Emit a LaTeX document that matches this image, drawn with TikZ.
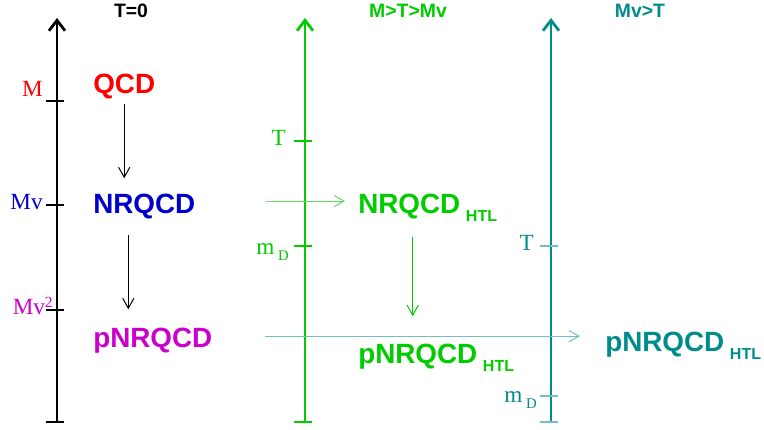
\documentclass[tikz,border=0pt]{standalone}
\usepackage{fontspec}
\newfontfamily\hel{Liberation Sans}
\newfontfamily\tms{Liberation Serif}
\usetikzlibrary{arrows.meta,positioning}
\definecolor{qred}{RGB}{255,0,0}
\definecolor{qblue}{RGB}{0,0,204}
\definecolor{qmag}{RGB}{204,0,204}
\definecolor{qgreen}{RGB}{0,204,0}
\definecolor{lgreen}{RGB}{100,215,100}
\definecolor{qteal}{RGB}{0,140,140}
\definecolor{lteal}{RGB}{115,190,190}
\newcommand{\htl}{\hspace{1.4mm}\raisebox{-2mm}{\fontsize{11.4}{12}\selectfont HTL}}
\newcommand{\mdsub}{m\hspace{0.9mm}\raisebox{-1.5mm}{\fontsize{10.5}{11}\selectfont D}}
\begin{document}
\begin{tikzpicture}[x=0.25mm,y=-0.25mm,
 scaleaxis/.style={line width=0.7mm,-{Straight Barb[length=2.6mm,width=4mm]}},
 tickmark/.style={line width=0.35mm},
 theory/.style={inner sep=0pt,anchor=base west,font=\hel\bfseries\fontsize{19.8}{22}\selectfont},
 head/.style={inner sep=0pt,anchor=base,font=\hel\bfseries\fontsize{13.8}{15}\selectfont},
 lab/.style={inner sep=0pt,anchor=base east,font=\tms\fontsize{16.5}{18}\selectfont},
 arr/.style={line width=0.25mm,-{Straight Barb[length=2.5mm,width=2.8mm]}}]
\useasboundingbox (0,0) rectangle (764,430);
% T=0 axis
\coordinate (b1) at (57,422); \coordinate (t1) at (57,18);
\draw[scaleaxis] (b1) -- (t1);
\foreach \y in {101,205,310,422} \draw[tickmark] (46,\y) -- (64,\y);
\node[head] (h1) at (131,17) {T=0};
\node[lab,qred] (lM) at (43,96) {M};
\node[lab,qblue] (lMv) at (43,209) {Mv};
\node[lab,qmag] (lMvv) at (53,314) {Mv\raisebox{1.6mm}{\fontsize{11}{12}\selectfont 2}};
% M>T>Mv axis
\coordinate (b2) at (305,422); \coordinate (t2) at (305,18);
\draw[scaleaxis,qgreen] (b2) -- (t2);
\foreach \y in {141,246,422} \draw[tickmark,qgreen] (294,\y) -- (312,\y);
\node[head,qgreen] (h2) at (408,17) {M>T>Mv};
\node[lab,qgreen] (lT2) at (286,145) {T};
\node[lab,qgreen] (lmD2) at (289,254) {\mdsub};
% Mv>T axis
\coordinate (b3) at (551,422); \coordinate (t3) at (551,18);
\draw[scaleaxis,qteal] (b3) -- (t3);
\foreach \y in {246,396,422} \draw[tickmark,lteal] (540,\y) -- (558,\y);
\node[head,qteal] (h3) at (640,17) {Mv>T};
\node[lab,qteal] (lT3) at (534,250) {T};
\node[lab,qteal] (lmD3) at (537,402) {\mdsub};
% effective theories
\node[theory,qred] (qcd) at (93,93) {QCD};
\node[theory,qblue] (nrqcd) at (93,213) {NRQCD};
\node[theory,qmag] (pnrqcd) at (93,347) {pNRQCD};
\node[theory,qgreen] (nrqcdg) at (358,213) {NRQCD\htl};
\node[theory,qgreen] (pnrqcdg) at (358,363) {pNRQCD\htl};
\node[theory,qteal] (pnrqcdt) at (605,351) {pNRQCD\htl};
% matching steps
\draw[arr,shorten <=1.25mm,shorten >=3.75mm] (qcd.south) -- (qcd.south |- nrqcd.north);
\draw[arr,shorten <=4mm,shorten >=4.5mm] ([xshift=-4mm]nrqcd.south) -- ([xshift=-4mm]nrqcd.south |- pnrqcd.north);
\draw[arr,lgreen,shorten <=17.5mm,shorten >=3.25mm] ([yshift=1.25mm]nrqcd.east) -- ([yshift=1.25mm]nrqcd.east -| nrqcdg.west);
\draw[arr,qgreen,shorten <=4mm,shorten >=6.75mm] ([xshift=-3.75mm]nrqcdg.south) -- ([xshift=-3.75mm]nrqcdg.south |- pnrqcdg.north);
\draw[arr,lteal,shorten <=13mm,shorten >=6.25mm] ([yshift=1mm]pnrqcd.east) -- ([yshift=1mm]pnrqcd.east -| pnrqcdt.west);
\end{tikzpicture}
\end{document}
